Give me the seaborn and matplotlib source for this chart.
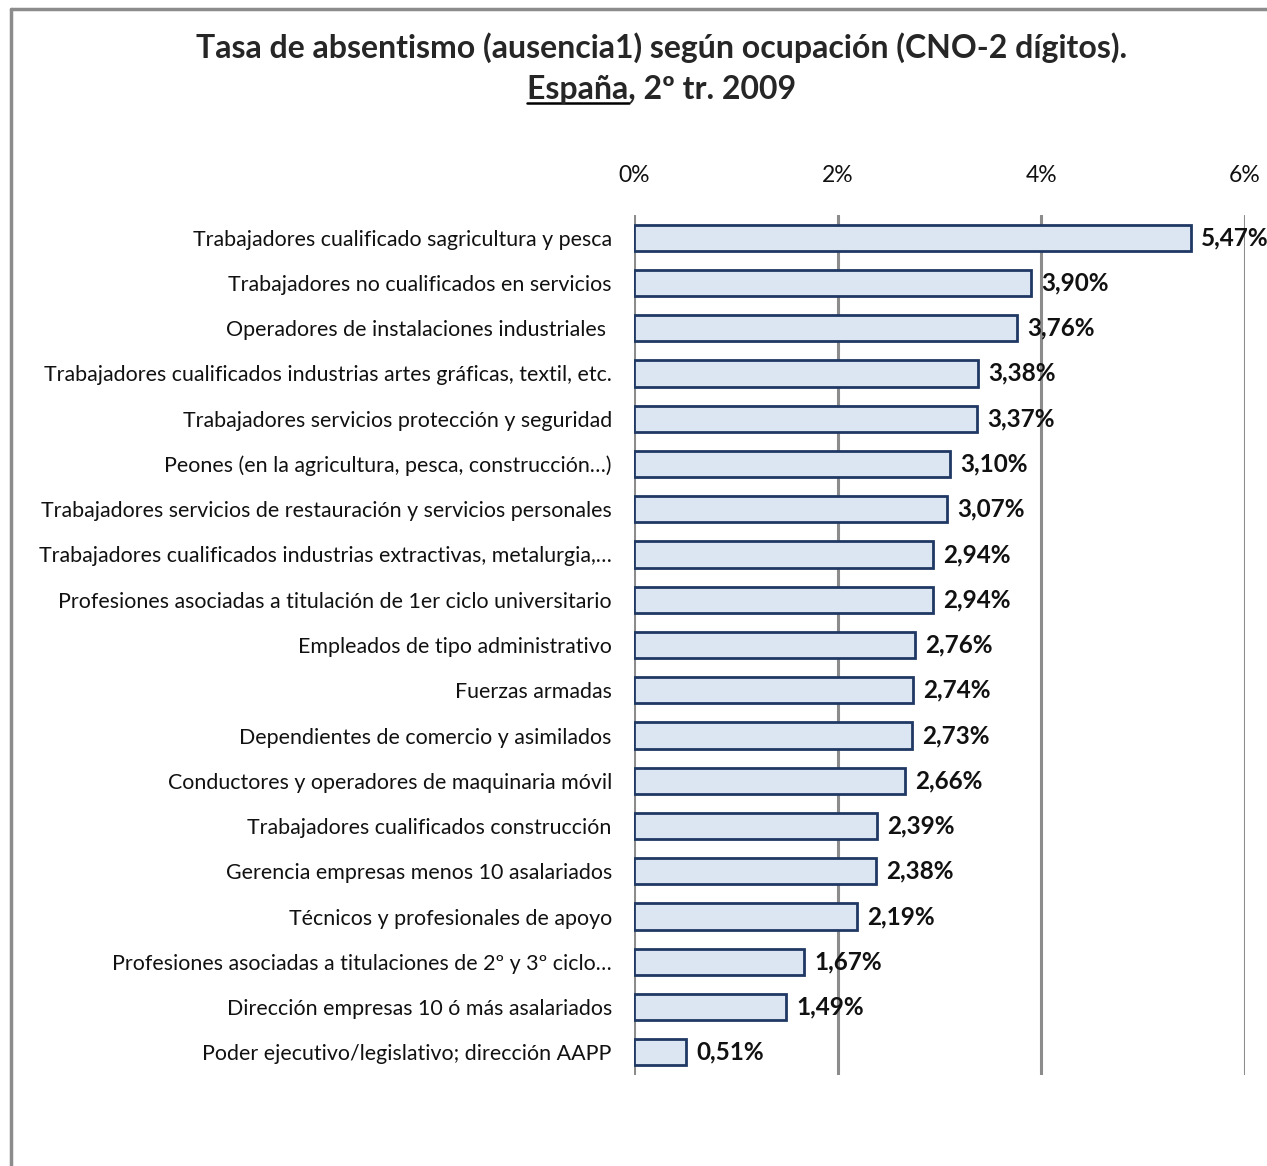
import pandas as pd
import seaborn as sns
import matplotlib.pyplot as plt
from matplotlib.lines import Line2D

# Data
categories = [
    'Trabajadores cualificado sagricultura y pesca',
    'Trabajadores no cualificados en servicios',
    'Operadores de instalaciones industriales ',
    'Trabajadores cualificados industrias artes gráficas, textil, etc.',
    'Trabajadores servicios protección y seguridad',
    'Peones (en la agricultura, pesca, construcción…)',
    'Trabajadores servicios de restauración y servicios personales',
    'Trabajadores cualificados industrias extractivas, metalurgia,…',
    'Profesiones asociadas a titulación de 1er ciclo universitario',
    'Empleados de tipo administrativo',
    'Fuerzas armadas',
    'Dependientes de comercio y asimilados',
    'Conductores y operadores de maquinaria móvil',
    'Trabajadores cualificados construcción',
    'Gerencia empresas menos 10 asalariados',
    'Técnicos y profesionales de apoyo',
    'Profesiones asociadas a titulaciones de 2º y 3º ciclo…',
    'Dirección empresas 10 ó más asalariados',
    'Poder ejecutivo/legislativo; dirección AAPP',
]
values = [5.47, 3.90, 3.76, 3.38, 3.37, 3.10, 3.07, 2.94, 2.94, 2.76,
          2.74, 2.73, 2.66, 2.39, 2.38, 2.19, 1.67, 1.49, 0.51]
x_ticks = [0, 2, 4, 6]
x_ticklabels = ['0%', '2%', '4%', '6%']

df = pd.DataFrame({'Ocupacion': categories, 'Tasa': values})

sns.set_style('white')
plt.rcParams['font.family'] = ['Lato', 'DejaVu Sans']

W, H = 1267, 1166
fig = plt.figure(figsize=(W / 100, H / 100), dpi=100)
ax = fig.add_axes([634 / W, 1 - 1075 / H, (1245 - 634) / W, (1075 - 215) / H])

sns.barplot(data=df, x='Tasa', y='Ocupacion', orient='h', ax=ax,
            color='#dce6f2', edgecolor='#1f3864', linewidth=2, width=0.58,
            saturation=1, zorder=3)

ax.set_xlim(0, 6)
ax.set_ylim(len(categories) - 0.5, -0.5)
ax.set_xticks(x_ticks)
ax.set_xticklabels(x_ticklabels)
ax.xaxis.tick_top()
ax.tick_params(axis='x', length=0, pad=21, labelsize=16.5, labelcolor='#111111')
ax.tick_params(axis='y', length=0, pad=16, labelsize=15.4, labelcolor='#111111')
ax.set_xlabel('')
ax.set_ylabel('')
ax.grid(axis='x', color='#8c8c8c', linewidth=2.2, zorder=1)
ax.grid(axis='y', visible=False)
for s in ax.spines.values():
    s.set_visible(False)

# value labels
for i, v in enumerate(values):
    ax.text(v + 0.1, i, f'{v:.2f}%'.replace('.', ','), va='center', ha='left',
            fontsize=17.5, fontweight='bold', color='#111111', zorder=4)

# title
title_size = 23
fig.text(662 / W, 1 - 48 / H, 'Tasa de absentismo (ausencia1) según ocupación (CNO-2 dígitos).',
         ha='center', va='center', fontsize=title_size, fontweight='bold')
t2 = fig.text(662 / W, 1 - 89 / H, 'España, 2º tr. 2009',
              ha='center', va='center', fontsize=title_size, fontweight='bold')
fig.canvas.draw()
r = fig.canvas.get_renderer()
bb = t2.get_window_extent(r)
tmp = fig.text(0, 0, 'España', fontsize=title_size, fontweight='bold')
w_esp = tmp.get_window_extent(r).width
tmp.remove()
y_ul = (bb.y0 + 1) / H
fig.add_artist(Line2D([bb.x0 / W, (bb.x0 + w_esp) / W], [y_ul, y_ul],
                      transform=fig.transFigure, color='black', linewidth=1.8))

# outer frame (left and top edges visible)
fig.add_artist(Line2D([11 / W, 11 / W], [0, 1 - 9 / H], transform=fig.transFigure,
                      color='#8c8c8c', linewidth=2.5))
fig.add_artist(Line2D([11 / W, 1], [1 - 9 / H, 1 - 9 / H], transform=fig.transFigure,
                      color='#8c8c8c', linewidth=2.5))

fig.savefig('out.png', dpi=100)
